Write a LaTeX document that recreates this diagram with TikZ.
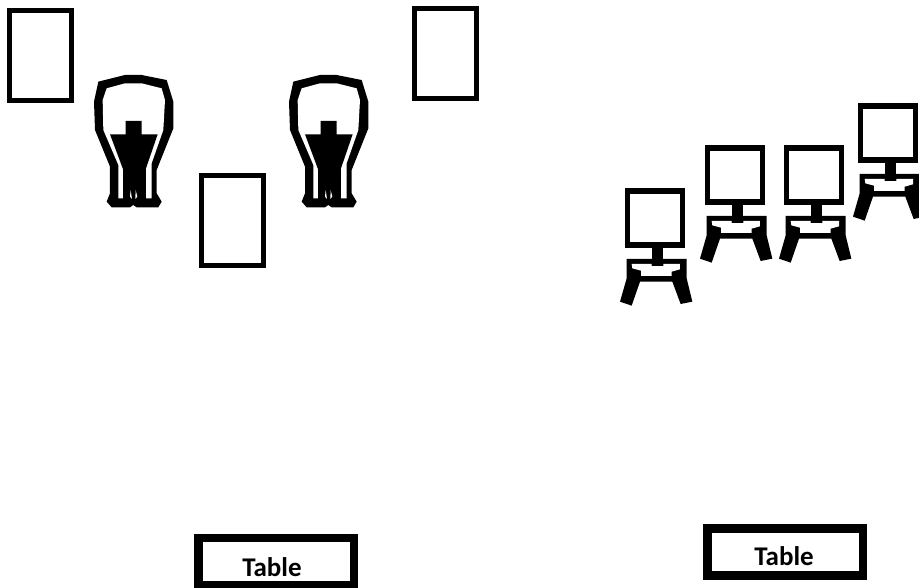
\documentclass[tikz,border=0pt]{standalone}
\usepackage{fontspec}
\setmainfont{Carlito}
\tikzset{
  x=1pt, y=-1pt,
  bench/.style={draw, line width=8.5pt, rectangle, minimum width=155.5pt, minimum height=47pt, inner sep=0pt},
  benchlabel/.style={font=\fontsize{27}{27}\selectfont\bfseries},
  screen/.style={draw, line width=5pt, rectangle, minimum width=62pt, minimum height=90pt, inner sep=0pt},
  goblet/.pic={
    \begin{scope}[x=.3333pt,y=-.3333pt]
    \fill[black] (40,50) -- (120,30) -- (170,30) -- (245,45) -- (265,110) -- (265,190) -- (215,315) -- (215,385) -- (230,410) -- (220,427) -- (155,427) -- (145,420) -- (135,427) -- (80,427) -- (65,410) -- (75,385) -- (75,305) -- (30,195) -- (27,110) -- cycle;
    \fill[white] (65,70) -- (120,55) -- (170,55) -- (230,70) -- (240,105) -- (235,195) -- (200,295) -- (200,400) -- (183,400) -- (183,290) -- (115,290) -- (115,400) -- (100,400) -- (100,300) -- (55,195) -- (53,105) -- cycle;
    \fill[black] (122,168) -- (170,168) -- (170,208) -- (218,208) -- (183,310) -- (115,315) -- (75,208) -- (122,208) -- cycle;
    \fill[black] (115,300) rectangle (183,405);
    \fill[white] (137,375) -- (141,402) -- (135,395) -- cycle;
    \fill[white] (152,375) -- (157,395) -- (151,402) -- cycle;
    \end{scope}
  },
  seat/.pic={
    \begin{scope}[x=.3333pt,y=-.3333pt]
    \draw[line width=5.3pt] (53,33) rectangle (217,195);
    \fill[black] (125,190) rectangle (160,258);
    \fill[black] (50,237) -- (230,237) -- (230,295) -- (247,365) -- (212,372) -- (187,305) -- (90,305) -- (65,377) -- (30,365) -- (50,295) -- cycle;
    \fill[white] (65,252) -- (125,252) -- (125,258) -- (160,258) -- (160,252) -- (210,252) -- (210,268) -- (185,275) -- (185,288) -- (93,288) -- (93,272) -- (67,265) -- cycle;
    \fill[black] (125,250) rectangle (160,258);
    \end{scope}
  }
}
\begin{document}
\begin{tikzpicture}
\useasboundingbox (0,0) rectangle (919,588);
% screens
\node[screen] (screenA) at (40.5,56) {};
\node[screen] (screenB) at (445.5,54) {};
\node[screen] (screenC) at (232,220.5) {};
% goblets
\pic at (85,65) {goblet};
\pic at (280,65) {goblet};
% seats
\pic at (610,180) {seat};
\pic at (690,137) {seat};
\pic at (769,137) {seat};
\pic at (843,95) {seat};
% tables
\node[bench] (tableA) at (276,561.5) {};
\node[bench] (tableB) at (785,552) {};
\node[benchlabel] (labelA) at (272,567) {Table};
\node[benchlabel] (labelB) at (784,556) {Table};
\end{tikzpicture}
\end{document}
